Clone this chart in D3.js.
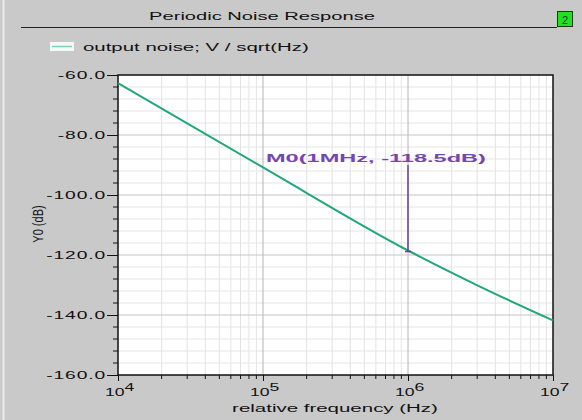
<!DOCTYPE html>
<html><head><meta charset="utf-8">
<script src="https://cdn.jsdelivr.net/npm/d3@7"></script>
<style>
html,body{margin:0;padding:0;background:#c9c9c9;}
svg{display:block;}
text{font-family:"Liberation Sans",Arial,sans-serif;}
</style></head>
<body>
<script>
const title = "Periodic Noise Response";
const legendLabel = "output noise; V / sqrt(Hz)";
const xLabel = "relative frequency (Hz)";
const yLabel = "Y0 (dB)";
const freqs = [1e4, 1e5, 1e6, 3.16e6, 1e7];
const noiseDb = [-62.7, -90.8, -118.5, -130.6, -141.8];
const yTicks = [-60, -80, -100, -120, -140, -160];
const xTicks = [1e4, 1e5, 1e6, 1e7];
const marker = {f: 1e6, v: -118.5, label: "M0(1MHz, -118.5dB)"};

const W = 582, H = 420;
const svg = d3.select("body").append("svg").attr("width", W).attr("height", H);
svg.append("rect").attr("width", W).attr("height", H).attr("fill", "#c9c9c9");
svg.append("line").attr("x1", 3.5).attr("x2", 3.5).attr("y1", 0).attr("y2", H).attr("stroke", "#ececec").attr("stroke-width", 2);

const L = 118, R = 553, T = 75, B = 375;
const x = d3.scaleLog().domain([1e4, 1e7]).range([L, R]);
const y = d3.scaleLinear().domain([-160, -60]).range([B, T]);

function stretched(parent, str, ax, ay, anchor, size, targetW, opts = {}) {
  const t = parent.append("text").attr("text-anchor", anchor).attr("font-size", size)
    .attr("fill", opts.fill || "#111").attr("font-weight", opts.weight || "normal").text(str);
  const w = t.node().getComputedTextLength();
  const sx = targetW ? targetW / w : (opts.sx || 1.6);
  t.attr("transform", `translate(${ax},${ay}) scale(${sx},1)` + (opts.rot ? ` rotate(${opts.rot})` : ""));
  return t;
}

// title
stretched(svg, title, 262, 20, "middle", 11, 226);
svg.append("line").attr("x1", 21).attr("x2", 557).attr("y1", 27.5).attr("y2", 27.5).attr("stroke", "#222").attr("stroke-width", 1);
svg.append("rect").attr("x", 557.5).attr("y", 11.5).attr("width", 15).attr("height", 15)
  .attr("fill", "#22e022").attr("stroke", "#1a3a1a");
svg.append("text").attr("x", 565).attr("y", 24).attr("text-anchor", "middle").attr("font-size", 11).attr("fill", "#0a4a0a").text("2");

// legend
svg.append("rect").attr("x", 50).attr("y", 42).attr("width", 24).attr("height", 9).attr("fill", "#f2faf7");
svg.append("line").attr("x1", 52).attr("x2", 72).attr("y1", 46.5).attr("y2", 46.5).attr("stroke", "#7fd0b8").attr("stroke-width", 1.5);
stretched(svg, legendLabel, 83, 51, "start", 11, 226);

// plot bg
svg.append("rect").attr("x", L).attr("y", T).attr("width", R - L).attr("height", B - T).attr("fill", "#ffffff");

// grid
const minorX = [];
for (let d = 1e4; d < 1e7; d *= 10) for (let k = 2; k <= 9; k++) minorX.push(d * k);
const minorY = d3.range(-160, -59, 4).filter(v => v % 20 !== 0);
const g = svg.append("g");
g.selectAll(".mx").data(minorX).join("line").attr("x1", d => x(d)).attr("x2", d => x(d))
  .attr("y1", T).attr("y2", B).attr("stroke", "#e4e4e4");
g.selectAll(".my").data(minorY).join("line").attr("x1", L).attr("x2", R)
  .attr("y1", d => y(d)).attr("y2", d => y(d)).attr("stroke", "#e4e4e4");
g.selectAll(".Mx").data(xTicks.slice(1, -1)).join("line").attr("x1", d => x(d)).attr("x2", d => x(d))
  .attr("y1", T).attr("y2", B).attr("stroke", "#b4b4b4");
g.selectAll(".My").data(yTicks.slice(1, -1)).join("line").attr("x1", L).attr("x2", R)
  .attr("y1", d => y(d)).attr("y2", d => y(d)).attr("stroke", "#c4c4c4");

// frame
svg.append("rect").attr("x", L).attr("y", T).attr("width", R - L).attr("height", B - T)
  .attr("fill", "none").attr("stroke", "#111").attr("stroke-width", 1.5);

// y axis
const yAx = svg.append("g").attr("transform", `translate(${L},0)`)
  .call(d3.axisLeft(y).tickValues(yTicks).tickSize(11).tickFormat(""));
yAx.select(".domain").remove();
yAx.selectAll("line").attr("stroke", "#111");
svg.append("g").selectAll("line").data(minorY).join("line")
  .attr("x1", L - 5).attr("x2", L).attr("y1", d => y(d)).attr("y2", d => y(d)).attr("stroke", "#111");
const fmt = d3.format(".1f");
const yl = svg.append("g");
yTicks.forEach(v => {
  stretched(yl, fmt(v).replace("\u2212", "-"), 106, y(v) + 4, "end", 11, null, {sx: 1.75})
    .attr("letter-spacing", 0.5);
});

// x axis
const xAx = svg.append("g").attr("transform", `translate(0,${B})`)
  .call(d3.axisBottom(x).tickValues(xTicks).tickSize(6).tickFormat(""));
xAx.select(".domain").remove();
xAx.selectAll("line").attr("stroke", "#111");
svg.append("g").selectAll("line").data(minorX).join("line")
  .attr("x1", d => x(d)).attr("x2", d => x(d)).attr("y1", B).attr("y2", B + 4).attr("stroke", "#111");
const xl = svg.append("g");
xTicks.forEach(v => {
  const t = xl.append("text").attr("text-anchor", "start").attr("font-size", 11).attr("fill", "#111");
  t.append("tspan").text("10");
  t.append("tspan").attr("dy", -5).attr("font-size", 11).text(Math.round(Math.log10(v)));
  t.attr("transform", `translate(${x(v) - 13},${B + 21}) scale(1.6,1)`);
});

stretched(svg, xLabel, 335, 412, "middle", 11, 206);
stretched(svg, yLabel, 43, 224, "middle", 11, null, {sx: 1.4, rot: -90});

// curve
const line = d3.line().x(d => x(d[0])).y(d => y(d[1])).curve(d3.curveMonotoneX);
svg.append("path").datum(freqs.map((f, i) => [f, noiseDb[i]])).attr("d", line)
  .attr("fill", "none").attr("stroke", "#22a67c").attr("stroke-width", 2);

// marker
const mx = x(marker.f), my = y(marker.v);
svg.append("line").attr("x1", mx).attr("x2", mx).attr("y1", 165).attr("y2", my + 1).attr("stroke", "#6a3fa0").attr("stroke-width", 1.5);
svg.append("path").attr("d", `M${mx - 3},${my + 1}L${mx + 3},${my + 1}`).attr("stroke", "#6a3fa0").attr("stroke-width", 1.5);
stretched(svg, marker.label, 266, 162, "start", 11.5, 220, {fill: "#7446b4", weight: "bold"});
</script>
</body></html>
